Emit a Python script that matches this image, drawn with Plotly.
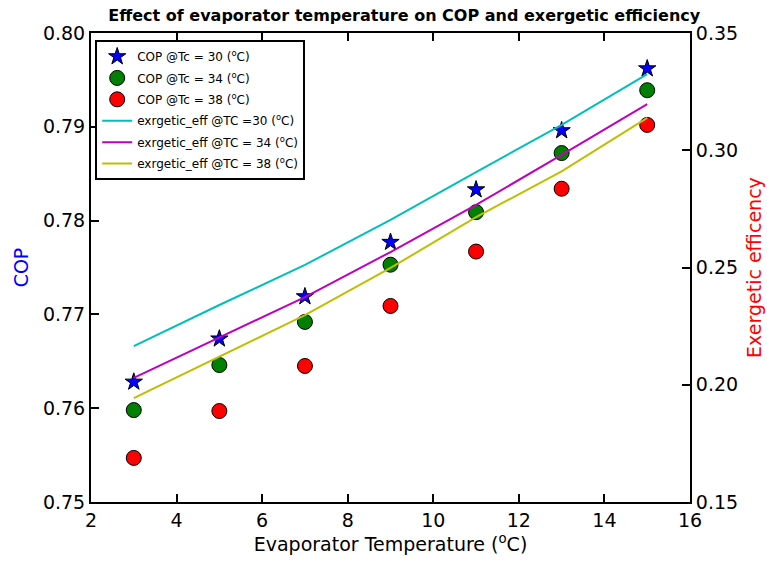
import plotly.graph_objects as go

evap_temp = [3, 5, 7, 9, 11, 13, 15]

cop_tc30 = [0.7628, 0.7674, 0.7719, 0.7777, 0.7833, 0.7896, 0.7962]
cop_tc34 = [0.7598, 0.7646, 0.7692, 0.7753, 0.7809, 0.7872, 0.7939]
cop_tc38 = [0.7547, 0.7597, 0.7645, 0.7709, 0.7767, 0.7834, 0.7902]

ex_tc30 = [0.2165, 0.2340, 0.2511, 0.2703, 0.2907, 0.3108, 0.3325]
ex_tc34 = [0.2029, 0.2200, 0.2374, 0.2566, 0.2767, 0.2980, 0.3197]
ex_tc38 = [0.1943, 0.2120, 0.2297, 0.2498, 0.2715, 0.2910, 0.3138]

x_ticks = [2, 4, 6, 8, 10, 12, 14, 16]
y1_ticks = [0.75, 0.76, 0.77, 0.78, 0.79, 0.80]
y2_ticks = [0.15, 0.20, 0.25, 0.30, 0.35]

FONT = "DejaVu Sans"

fig = go.Figure()

fig.add_trace(go.Scatter(
    x=evap_temp, y=cop_tc30, mode="markers", name="COP @Tc = 30 (<sup>o</sup>C)", legendgroup="a",
    marker=dict(symbol="star", size=13, color="#0000FF", line=dict(color="black", width=1))))
fig.add_trace(go.Scatter(
    x=evap_temp, y=cop_tc34, mode="markers", name="COP @Tc = 34 (<sup>o</sup>C)", legendgroup="b",
    marker=dict(symbol="circle", size=15, color="#008000", line=dict(color="black", width=1))))
fig.add_trace(go.Scatter(
    x=evap_temp, y=cop_tc38, mode="markers", name="COP @Tc = 38 (<sup>o</sup>C)", legendgroup="c",
    marker=dict(symbol="circle", size=15, color="#FF0000", line=dict(color="black", width=1))))

fig.add_trace(go.Scatter(
    x=evap_temp, y=ex_tc30, mode="lines", name="exrgetic_eff @TC =30 (<sup>o</sup>C)", legendgroup="d",
    line=dict(color="#00BFBF", width=2), yaxis="y2"))
fig.add_trace(go.Scatter(
    x=evap_temp, y=ex_tc34, mode="lines", name="exrgetic_eff @TC = 34 (<sup>o</sup>C)", legendgroup="e",
    line=dict(color="#BF00BF", width=2), yaxis="y2"))
fig.add_trace(go.Scatter(
    x=evap_temp, y=ex_tc38, mode="lines", name="exrgetic_eff @TC = 38 (<sup>o</sup>C)", legendgroup="f",
    line=dict(color="#BFBF00", width=2), yaxis="y2"))

axis_common = dict(showline=True, linecolor="black", linewidth=2, ticks="inside",
                   ticklen=8, tickwidth=1.5, tickcolor="black", showgrid=False,
                   zeroline=False, automargin=False,
                   tickfont=dict(family=FONT, size=19, color="black"))

fig.update_layout(
    width=767, height=564,
    margin=dict(l=91, r=77, t=33, b=62),
    paper_bgcolor="white", plot_bgcolor="white",
    font=dict(family=FONT, color="black"),
    title=dict(text="<b>Effect of evaporator temperature on COP and exergetic efficiency</b>",
               x=0.523, xref="paper", xanchor="center", y=0.973, yanchor="middle",
               font=dict(family=FONT, size=16, color="black")),
    xaxis=dict(range=[2, 16], tickvals=x_ticks, mirror="ticks",
               title=dict(text="Evaporator Temperature (<sup>o</sup>C)",
                          font=dict(family=FONT, size=19, color="black"), standoff=8),
               **axis_common),
    yaxis=dict(range=[0.75, 0.80], tickvals=y1_ticks, tickformat=".2f",
               title=dict(text="COP", font=dict(family=FONT, size=19, color="#0000FF"), standoff=9),
               **axis_common),
    yaxis2=dict(range=[0.15, 0.35], tickvals=y2_ticks, tickformat=".2f", overlaying="y",
                side="right",
                title=dict(text="Exergetic efficency", font=dict(family=FONT, size=19, color="#FF0000"),
                           standoff=11),
                **axis_common),
    legend=dict(x=0.007, y=0.985, xanchor="left", yanchor="top",
                bgcolor="white", bordercolor="black", borderwidth=2,
                font=dict(family=FONT, size=12, color="black"),
                itemwidth=30, tracegroupgap=2.4),
    showlegend=True,
)

fig.write_html("out.html")
